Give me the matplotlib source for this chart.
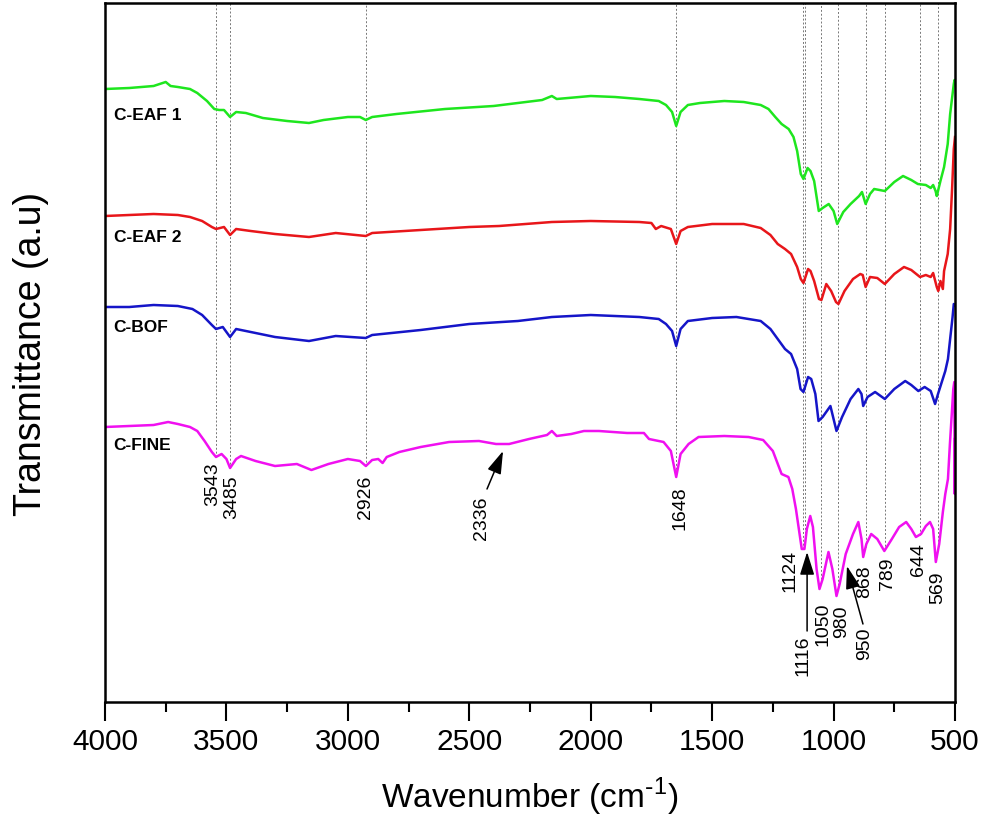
import numpy as np
import matplotlib
matplotlib.use('Agg')
import matplotlib.pyplot as plt

plt.rcParams['font.family'] = ['Liberation Sans', 'DejaVu Sans']

# FTIR spectra (wavenumber in cm-1, transmittance in a.u.)
wn_eaf1 = [4000, 3900, 3800, 3750, 3730, 3700, 3650, 3620, 3580, 3550, 3530, 3510, 3485, 3460, 3420,
           3350, 3250, 3160, 3100, 3000, 2950, 2926, 2900, 2800, 2600, 2400, 2200, 2160, 2140, 2000,
           1900, 1800, 1720, 1690, 1665, 1648, 1630, 1600, 1550, 1450, 1370, 1300, 1268, 1240, 1214,
           1185, 1165, 1150, 1135, 1124, 1107, 1095, 1080, 1061, 1045, 1020, 1000, 985, 960, 930,
           895, 883, 868, 850, 833, 789, 750, 714, 680, 653, 620, 600, 590, 580, 575,
           560, 545, 530, 520, 510, 505, 502, 500]
t_eaf1 = [613, 614, 616, 620, 616, 615, 613, 609, 601, 593, 592, 592, 585, 590, 589,
          584, 581, 579, 582, 585, 585, 582, 585, 588, 593, 596, 602, 606, 603, 606,
          605, 603, 601, 597, 590, 576, 590, 597, 599, 601, 600, 597, 593, 585, 578,
          573, 565, 551, 528, 523, 534, 531, 521, 491, 494, 498, 491, 478, 490, 498,
          506, 510, 498, 508, 513, 511, 520, 526, 522, 518, 517, 514, 517, 511, 506,
          521, 535, 558, 588, 608, 618, 622, 619]

wn_eaf2 = [4000, 3900, 3800, 3700, 3650, 3600, 3560, 3543, 3510, 3485, 3460, 3400, 3300, 3160, 3050,
           2926, 2900, 2700, 2500, 2377, 2160, 2000, 1800, 1750, 1732, 1710, 1670, 1648, 1630, 1600,
           1500, 1370, 1300, 1260, 1230, 1200, 1175, 1150, 1135, 1124, 1105, 1095, 1080, 1060, 1050,
           1030, 1010, 990, 980, 955, 920, 890, 880, 868, 850, 820, 789, 750, 710, 680,
           644, 620, 600, 590, 575, 569, 560, 550, 545, 530, 520, 512, 505, 500]
t_eaf2 = [486, 487, 488, 487, 485, 481, 475, 473, 475, 467, 473, 471, 468, 465, 469,
          466, 469, 472, 475, 476, 480, 481, 480, 479, 473, 476, 473, 458, 471, 475,
          478, 478, 474, 467, 458, 453, 448, 435, 423, 419, 433, 431, 421, 403, 402,
          418, 411, 400, 398, 411, 423, 428, 427, 415, 425, 424, 418, 428, 435, 432,
          425, 427, 425, 429, 415, 411, 421, 413, 431, 448, 473, 513, 553, 565]

wn_bof = [4000, 3900, 3800, 3700, 3640, 3600, 3560, 3543, 3515, 3485, 3460, 3400, 3300, 3160, 3050,
          2926, 2900, 2700, 2500, 2300, 2160, 2000, 1800, 1720, 1690, 1665, 1648, 1630, 1600, 1500,
          1400, 1300, 1260, 1230, 1200, 1175, 1150, 1136, 1124, 1105, 1092, 1075, 1062, 1045, 1013,
          995, 988, 965, 930, 898, 885, 878, 860, 829, 789, 750, 705, 680, 651, 625,
          600, 582, 570, 557, 540, 529, 520, 510, 505, 500]
t_bof = [395, 395, 397, 396, 393, 387, 377, 373, 375, 365, 373, 370, 365, 361, 366,
         364, 367, 372, 378, 381, 385, 387, 385, 383, 378, 371, 356, 373, 381, 384,
         385, 381, 373, 363, 353, 348, 333, 313, 310, 325, 323, 308, 281, 285, 296,
         278, 271, 285, 303, 313, 308, 296, 305, 310, 303, 313, 321, 317, 311, 315,
         311, 298, 308, 318, 331, 343, 363, 385, 398, 397]

wn_fine = [4000, 3900, 3800, 3740, 3700, 3650, 3620, 3590, 3560, 3543, 3520, 3500, 3485, 3460, 3440,
           3380, 3300, 3210, 3150, 3080, 3000, 2950, 2926, 2900, 2875, 2857, 2840, 2788, 2700, 2583,
           2460, 2390, 2336, 2254, 2180, 2160, 2140, 2080, 2028, 1966, 1850, 1781, 1760, 1720, 1700,
           1670, 1648, 1630, 1597, 1556, 1450, 1350, 1290, 1250, 1214, 1186, 1170, 1155, 1140, 1131,
           1120, 1110, 1096, 1085, 1070, 1058, 1045, 1021, 1005, 988, 975, 950, 920, 898, 885,
           878, 865, 845, 820, 791, 760, 730, 701, 680, 661, 640, 620, 603, 590, 579,
           565, 550, 540, 529, 521, 512, 507, 503, 501, 500]
t_fine = [275, 276, 277, 280, 278, 275, 271, 261, 250, 245, 248, 243, 234, 243, 246,
          241, 236, 238, 232, 238, 243, 241, 236, 242, 243, 239, 245, 250, 255, 260,
          261, 258, 258, 263, 267, 271, 266, 268, 271, 271, 269, 269, 263, 261, 260,
          251, 225, 248, 258, 265, 266, 265, 262, 251, 228, 225, 213, 193, 168, 153,
          153, 173, 186, 175, 133, 113, 123, 150, 133, 106, 118, 148, 168, 180, 163,
          145, 158, 168, 163, 151, 163, 175, 180, 173, 165, 168, 176, 180, 173, 140,
          158, 190, 208, 223, 258, 293, 313, 320, 208, 263]

names = ['C-EAF 1', 'C-EAF 2', 'C-BOF', 'C-FINE']
colors = ['#1ee61e', '#e8161a', '#1515c8', '#f010f0']

# assigned bands: wavenumber, label x (cm-1), label top (a.u.)
peaks = [3543, 3485, 2926, 2336, 1648, 1124, 1116, 1050, 980, 950, 868, 789, 644, 569]
label_x = [3555, 3477, 2929, 2448, 1632, 1179, 1126, 1044, 965, 871, 871, 780, 652, 570]
label_top = [241, 228, 227, 206, 217, 153, 68, 101, 98, 75, 138, 145, 160, 131]
no_line = [2336, 950]
arrows = {2336: ((2361, 251), (2427, 213)),
          1116: ((1109, 150), (1109, 71)),
          950: ((945, 136), (879, 78))}

fig = plt.figure(figsize=(9.82, 8.2), dpi=100)
ax = fig.add_axes([105 / 982, 117 / 820, 850 / 982, 699 / 820])

curves = [(wn_eaf1, t_eaf1), (wn_eaf2, t_eaf2), (wn_bof, t_bof), (wn_fine, t_fine)]
for (x, y), c in zip(curves, colors):
    ax.plot(x, y, color=c, lw=1.8, solid_joinstyle='round')

# dotted guide lines down to the C-FINE trace
fine_x = np.array(wn_fine[::-1])
fine_y = np.array(t_fine[::-1])
for p in peaks:
    if p in no_line:
        continue
    yb = np.interp(p, fine_x, fine_y)
    ax.plot([p, p], [yb, 699], color='#777777', lw=0.7, ls=(0, (2, 2)), zorder=0)

for p, lx, ly in zip(peaks, label_x, label_top):
    ax.text(lx, ly, str(p), rotation=90, ha='center', va='top', fontsize=14)

for p, (head, tail) in arrows.items():
    ax.annotate('', xy=head, xytext=tail,
                arrowprops=dict(arrowstyle='-|>,head_length=0.7,head_width=0.22',
                                color='k', lw=1.1, mutation_scale=20,
                                shrinkA=0, shrinkB=0))

# sample names
name_y = [588, 466, 375, 257]
for n, yy in zip(names, name_y):
    ax.text(3965, yy, n, fontsize=12.5, fontweight='bold', ha='left', va='center')

ax.set_xlim(4000, 500)
ax.set_ylim(0, 699)
ax.set_yticks([])
ax.set_xticks(np.arange(4000, 499, -500))
ax.set_xticks(np.arange(3750, 500, -500), minor=True)
ax.tick_params(axis='x', which='major', length=14, width=1.5, labelsize=21.5, pad=4)
ax.tick_params(axis='x', which='minor', length=7, width=1.5)
for s in ax.spines.values():
    s.set_linewidth(1.8)

ax.set_xlabel(r'Wavenumber (cm$^{\mathregular{\text{-}1}}$)', fontsize=24, labelpad=14)
ax.set_ylabel('Transmittance (a.u)', fontsize=27, labelpad=40)

fig.savefig('out.png', dpi=100)
